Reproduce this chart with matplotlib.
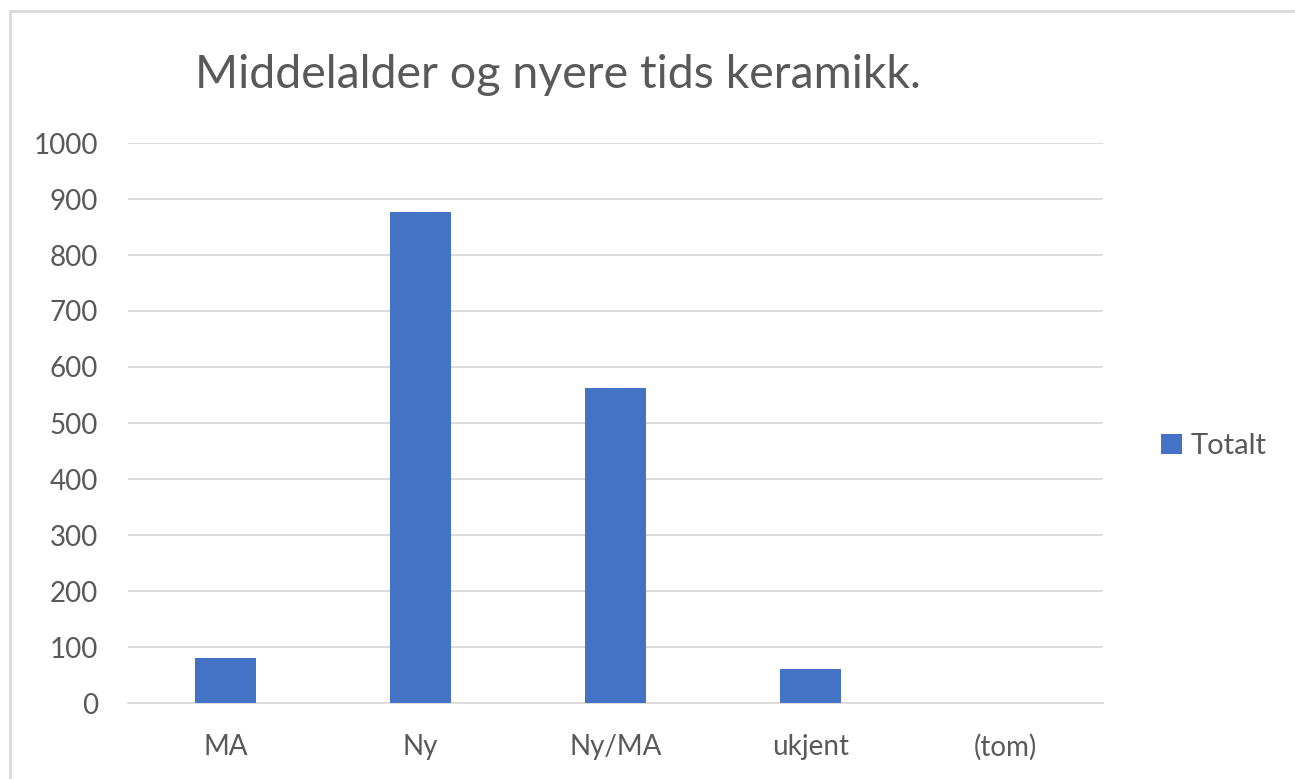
import matplotlib
matplotlib.use('Agg')
import matplotlib.pyplot as plt
from matplotlib.patches import Rectangle

categories = ['MA', 'Ny', 'Ny/MA', 'ukjent', '(tom)']
totalt = [80, 877, 562, 60, 0]
yticks = [0, 100, 200, 300, 400, 500, 600, 700, 800, 900, 1000]

plt.rcParams['font.family'] = ['Lato', 'DejaVu Sans']
text_color = '#595959'
bar_color = '#4472c4'
grid_color = '#d9d9d9'

fig = plt.figure(figsize=(12.95, 7.79), dpi=100)
fig.patch.set_facecolor('white')

# chart frame (light gray border, cut off at right/bottom)
fig.add_artist(Rectangle((10 / 1295, -0.1), 1.2, 1 - 11 / 779 + 0.1,
                         transform=fig.transFigure, facecolor='none',
                         edgecolor='#d9d9d9', linewidth=2))

ax = fig.add_axes([128 / 1295, 1 - 703 / 779, 975 / 1295, 560 / 779])
x = range(len(categories))
ax.bar(x, totalt, width=0.31, color=bar_color, label='Totalt', zorder=3)

ax.set_xlim(-0.5, len(categories) - 0.5)
ax.set_ylim(0, 1000)
ax.set_yticks(yticks)
ax.set_xticks(list(x))
ax.set_xticklabels(categories)
ax.yaxis.grid(True, color=grid_color, linewidth=1.3, zorder=0)
for s in ['top', 'right', 'left']:
    ax.spines[s].set_visible(False)
ax.spines['bottom'].set_color(grid_color)
ax.spines['bottom'].set_linewidth(1.3)
ax.tick_params(axis='both', length=0, labelsize=20, colors=text_color)
ax.tick_params(axis='y', pad=21.5)
ax.tick_params(axis='x', pad=22)

fig.text(558 / 1295, 1 - 75 / 779, 'Middelalder og nyere tids keramikk.',
         ha='center', va='center', fontsize=33.5, color=text_color)

ax.legend(loc='center left', bbox_to_anchor=(1135 / 1295, 1 - 446 / 779),
          bbox_transform=fig.transFigure, frameon=False, fontsize=21,
          labelcolor=text_color, handlelength=0.7, handleheight=0.7,
          handletextpad=0.3)

fig.savefig('out.png', dpi=100, facecolor='white')
